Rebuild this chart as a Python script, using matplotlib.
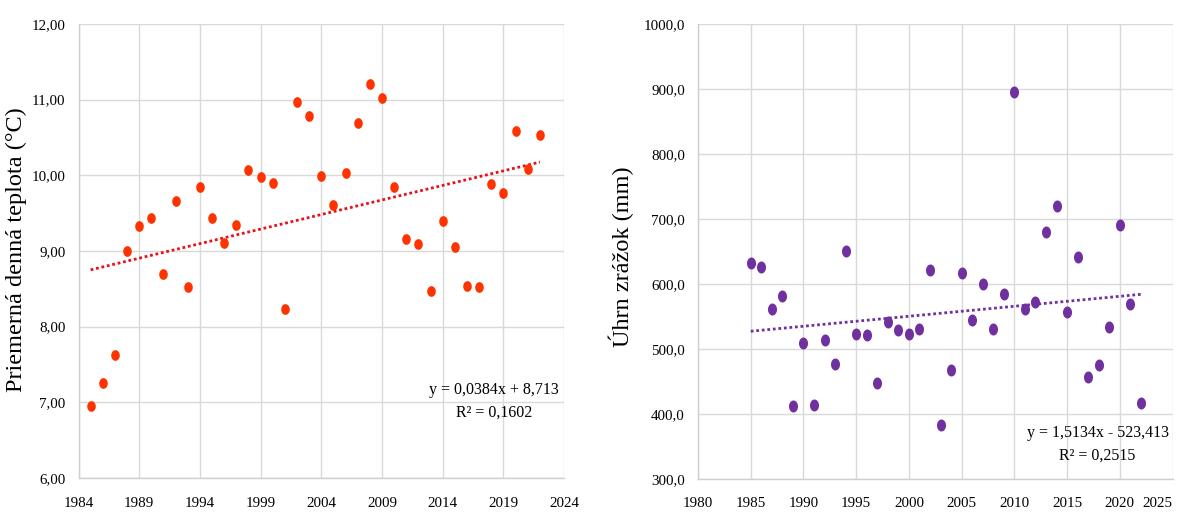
import numpy as np
import matplotlib
matplotlib.use("Agg")
import matplotlib.pyplot as plt
from matplotlib.path import Path
from matplotlib.ticker import FuncFormatter, MultipleLocator, FixedLocator

# ---------------- data ----------------
years_t = list(range(1985, 2023))
temperature = [6.95, 7.25, 7.62, 9.00, 9.33, 9.43, 8.70, 9.66, 8.52, 9.85,
               9.43, 9.10, 9.35, 10.07, 9.98, 9.90, 8.23, 10.97, 10.78, 9.99,
               9.61, 10.03, 10.69, 11.21, 11.02, 9.84, 9.16, 9.09, 8.47, 9.39,
               9.05, 8.54, 8.53, 9.89, 9.76, 10.58, 10.09, 10.53]
xticks_left = [1984, 1989, 1994, 1999, 2004, 2009, 2014, 2019, 2024]

years_p = list(range(1985, 2023))
precipitation = [632, 626, 562, 581, 412, 509, 413, 514, 476, 650,
                 523, 521, 448, 541, 529, 523, 531, 621, 383, 468,
                 616, 544, 600, 531, 584, 895, 562, 572, 680, 720,
                 557, 641, 457, 475, 534, 690, 569, 417]
xticks_right = [1980, 1985, 1990, 1995, 2000, 2005, 2010, 2015, 2020, 2025]

eq_left = "y = 0,0384x + 8,713\nR² = 0,1602"
eq_right = "y = 1,5134x - 523,413\nR² = 0,2515"
ylabel_left = "Priemerná denná teplota (°C)"
ylabel_right = "Úhrn zrážok (mm)"

# ---------------- style ----------------
plt.rcParams['font.family'] = ['Liberation Serif', 'DejaVu Serif']
W, H = 1185, 513
fig = plt.figure(figsize=(W / 100, H / 100), dpi=100)
fig.patch.set_facecolor('white')

def ellipse_marker(sx, sy):
    t = np.linspace(0, 2 * np.pi, 60)
    verts = np.column_stack([sx * np.cos(t), sy * np.sin(t)])
    return Path(verts, closed=True)

GRID = '#D9D9D9'
SPINE = '#CFCFCF'

def style_axes(ax):
    ax.set_facecolor('white')
    ax.grid(True, color=GRID, linewidth=1.0, zorder=0)
    ax.set_axisbelow(True)
    for side in ['top', 'right']:
        ax.spines[side].set_visible(False)
    for side in ['left', 'bottom']:
        ax.spines[side].set_color(SPINE)
        ax.spines[side].set_linewidth(1.0)
    ax.tick_params(axis='both', length=0, labelsize=10.8, colors='black')
    ax.tick_params(axis='y', pad=9.5)
    ax.tick_params(axis='x', pad=13.5)

px = lambda v: v * 72 / 100  # pixels -> points

# ---------------- left chart ----------------
axL = fig.add_axes([78.5 / W, 1 - 478 / H, 485.7 / W, 454 / H])
style_axes(axL)
xt = np.array(years_t)
yt = np.array(temperature)
axL.plot(xt, yt, linestyle='none', marker=ellipse_marker(0.8, 1.0),
         markersize=px(10.7), markerfacecolor='#FF3300', markeredgewidth=0,
         zorder=3)
cL = np.polyfit(xt, yt, 1)
axL.plot(xt[[0, -1]], np.polyval(cL, xt[[0, -1]]), color='#E8101A',
         linewidth=2.0, linestyle=(0, (1, 1)), dash_capstyle='butt', zorder=2)
axL.set_xlim(xticks_left[0], xticks_left[-1])
axL.set_ylim(6, 12)
axL.xaxis.set_major_locator(FixedLocator(xticks_left))
axL.yaxis.set_major_locator(MultipleLocator(1))
axL.xaxis.set_major_formatter(FuncFormatter(lambda v, p: f"{int(round(v))}"))
axL.yaxis.set_major_formatter(FuncFormatter(lambda v, p: f"{v:.2f}".replace('.', ',')))
axL.set_ylabel(ylabel_left, fontsize=17.5)
axL.yaxis.set_label_coords((27 - 78.5) / 485.7, 0.502)
axL.text(0.8555, 0.1696, eq_left, transform=axL.transAxes, ha='center',
         va='center', multialignment='center', fontsize=11.5, linespacing=1.55)

# ---------------- right chart ----------------
axR = fig.add_axes([698 / W, 1 - 478.7 / H, 474.6 / W, 454.7 / H])
style_axes(axR)
xp = np.array(years_p)
yp = np.array(precipitation)
axR.plot(xp, yp, linestyle='none', marker=ellipse_marker(0.75, 1.0),
         markersize=px(12), markerfacecolor='#7030A0', markeredgewidth=0,
         zorder=3)
cR = np.polyfit(xp, yp, 1)
axR.plot(xp[[0, -1]], np.polyval(cR, xp[[0, -1]]), color='#7030A0',
         linewidth=2.0, linestyle=(0, (1, 1)), dash_capstyle='butt', zorder=2)
axR.set_xlim(xticks_right[0], xticks_right[-1])
axR.set_ylim(300, 1000)
axR.xaxis.set_major_locator(FixedLocator(xticks_right))
axR.yaxis.set_major_locator(MultipleLocator(100))
axR.xaxis.set_major_formatter(FuncFormatter(lambda v, p: f"{int(round(v))}"))
axR.yaxis.set_major_formatter(FuncFormatter(lambda v, p: f"{v:.1f}".replace('.', ',')))
axR.set_ylabel(ylabel_right, fontsize=17.5)
axR.yaxis.set_label_coords((634 - 698) / 474.6, 0.489)
axR.text(0.8418, 0.0752, eq_right, transform=axR.transAxes, ha='center',
         va='center', multialignment='center', fontsize=11.5, linespacing=1.55)

# keep the last right-hand tick label inside the canvas
for lab in axR.get_xticklabels():
    if lab.get_text() == str(xticks_right[-1]):
        lab.set_horizontalalignment('right')
        lab.set_x(lab.get_position()[0])

fig.savefig('out.png', dpi=100, facecolor='white')
